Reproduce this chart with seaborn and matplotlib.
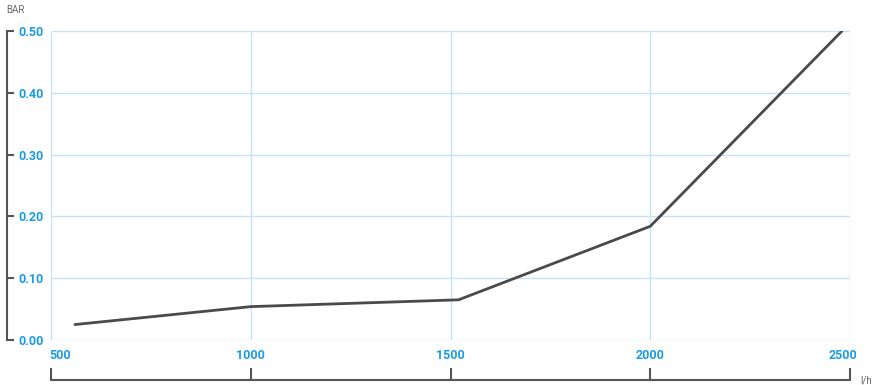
import matplotlib
matplotlib.use("Agg")
import pandas as pd
import seaborn as sns
import matplotlib.pyplot as plt
import matplotlib.transforms as mtrans

flow = [560, 1000, 1520, 2000, 2480]
pressure = [0.025, 0.054, 0.065, 0.184, 0.50]
x_ticks = [500, 1000, 1500, 2000, 2500]
y_ticks = [0.0, 0.1, 0.2, 0.3, 0.4, 0.5]

df = pd.DataFrame({"flow": flow, "pressure": pressure})

sns.set_theme(style="white")
plt.rcParams["font.family"] = ["Roboto", "DejaVu Sans"]

blue = "#1b9ce2"
grid_c = "#c6e2f8"
axis_c = "#555555"

fig = plt.figure(figsize=(8.72, 3.85), dpi=100)
ax = fig.add_axes([51 / 872, 1 - 340 / 385, 799 / 872, 309 / 385])

sns.lineplot(data=df, x="flow", y="pressure", color="#4a4a4a", linewidth=2.0, ax=ax)

ax.set_xlim(500, 2500)
ax.set_ylim(0, 0.5)
ax.set_xticks(x_ticks)
ax.set_yticks(y_ticks)
ax.set_xticklabels([str(v) for v in x_ticks])
ax.set_yticklabels([f"{v:.2f}" for v in y_ticks])
ax.grid(True, color=grid_c, linewidth=1.0)
ax.set_axisbelow(True)
for gl in ax.get_xgridlines() + ax.get_ygridlines():
    gl.set_clip_on(False)
ax.set_xlabel("")
ax.set_ylabel("")

for s in ["top", "right"]:
    ax.spines[s].set_visible(False)
ax.spines["left"].set_position(("outward", 31.5))
ax.spines["bottom"].set_position(("outward", 28.8))
for s in ["left", "bottom"]:
    ax.spines[s].set_color(axis_c)
    ax.spines[s].set_linewidth(1.5)

ax.tick_params(axis="y", left=True, direction="in", length=5, width=1.5, color=axis_c,
               labelcolor=blue, labelsize=9, pad=-8)
ax.tick_params(axis="x", bottom=True, direction="in", length=9, width=1.5, color=axis_c,
               labelcolor=blue, labelsize=9, pad=-22)
for lab in ax.get_yticklabels():
    lab.set_horizontalalignment("left")
    lab.set_fontweight("bold")
xlabs = ax.get_xticklabels()
for lab in xlabs:
    lab.set_fontweight("bold")
xlabs[0].set_transform(xlabs[0].get_transform() + mtrans.ScaledTranslation(0.09, 0, fig.dpi_scale_trans))
xlabs[-1].set_transform(xlabs[-1].get_transform() + mtrans.ScaledTranslation(-0.07, 0, fig.dpi_scale_trans))

fig.text(6 / 872, 1 - 10 / 385, "BAR", fontsize=7, color="#666666", va="center", ha="left")
fig.text(860 / 872, 1 - 381 / 385, "l/h", fontsize=7, color="#666666", va="center", ha="left")

fig.savefig("out.png", dpi=100)
